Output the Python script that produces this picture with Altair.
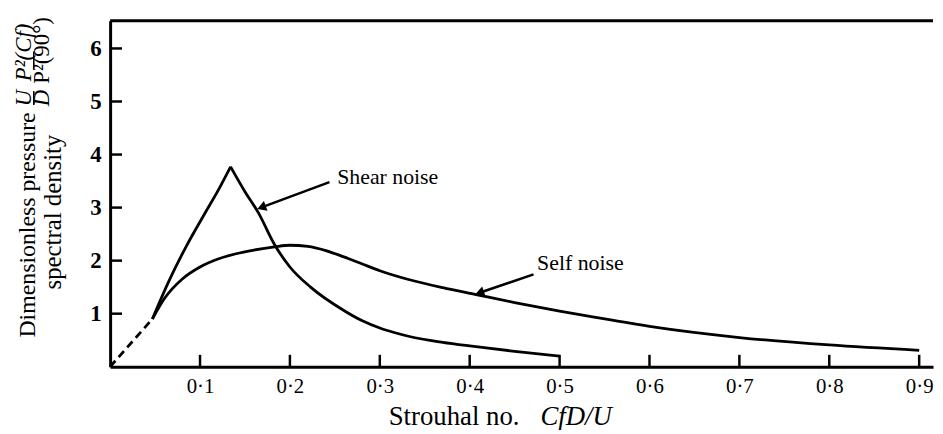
import altair as alt
import pandas as pd

# ---------------- data ----------------
dash_x = [0.0, 0.047]
dash_y = [0.0, 0.9]

shear_up_x = [0.047, 0.065, 0.085, 0.105, 0.12, 0.134]
shear_up_y = [0.9, 1.6, 2.28, 2.88, 3.32, 3.77]

shear_down_x = [0.134, 0.15, 0.165, 0.183, 0.2, 0.223, 0.26, 0.28, 0.3, 0.315, 0.333, 0.37,
                0.407, 0.45, 0.5]
shear_down_y = [3.77, 3.3, 2.9, 2.3, 1.88, 1.5, 1.06, 0.87, 0.73, 0.65, 0.57, 0.46,
                0.38, 0.29, 0.2]

self_x = [0.047, 0.061, 0.08, 0.1, 0.12, 0.14, 0.16, 0.183, 0.2, 0.22, 0.24, 0.26, 0.28, 0.3,
          0.333, 0.37, 0.407, 0.45, 0.5, 0.54, 0.6, 0.7, 0.8, 0.9]
self_y = [0.9, 1.3, 1.65, 1.88, 2.03, 2.13, 2.2, 2.26, 2.29, 2.27, 2.19, 2.07, 1.94, 1.81,
          1.64, 1.49, 1.36, 1.21, 1.05, 0.93, 0.76, 0.55, 0.41, 0.31]

x_ticks = [0.1, 0.2, 0.3, 0.4, 0.5, 0.6, 0.7, 0.8, 0.9]
y_ticks = [1, 2, 3, 4, 5, 6]

labels = ["Shear noise", "Self noise"]
label_x = [0.2526, 0.475]
label_y = [3.57, 1.96]

arrow_tail_x = [0.244, 0.471]
arrow_tail_y = [3.48, 1.74]
arrow_head_x = [0.1684, 0.411]
arrow_head_y = [3.004, 1.394]
arrow_angle = [159.7, 161.3]

title_parts = ["Strouhal no.", "CfD/U"]
ylab_parts = ["Dimensionless pressure", "spectral density", "U", "D", "P²(Cf)", "P²(90°)"]

# ---------------- layout ----------------
W, H = 830, 349
FONT = "Liberation Serif"
xs = alt.Scale(domain=[0, 0.9154], nice=False, zero=False)
ys = alt.Scale(domain=[0, 6.523], nice=False, zero=False)

xaxis = alt.Axis(values=x_ticks, title=None, ticks=False, grid=False,
                 domainColor="black", domainWidth=3,
                 labelFont=FONT, labelFontSize=21, labelColor="black",
                 labelPadding=9,
                 labelExpr="replace(format(datum.value, '.1f'), '.', '·')")
yaxis = alt.Axis(values=y_ticks, title=None, ticks=False, grid=False,
                 domainColor="black", domainWidth=3,
                 labelFont=FONT, labelFontSize=23, labelFontWeight="bold", labelColor="black",
                 labelPadding=9, labelBaseline="middle")


def X(f):
    return alt.X(f, type="quantitative", scale=xs, axis=xaxis)


def Y(f):
    return alt.Y(f, type="quantitative", scale=ys, axis=yaxis)


dash_df = pd.DataFrame({"x": dash_x, "y": dash_y})
curve_df = pd.concat([
    pd.DataFrame({"x": shear_up_x, "y": shear_up_y, "s": "shear_up"}),
    pd.DataFrame({"x": shear_down_x, "y": shear_down_y, "s": "shear_down"}),
    pd.DataFrame({"x": self_x, "y": self_y, "s": "self"}),
], ignore_index=True)
curve_df["o"] = range(len(curve_df))

dash = alt.Chart(dash_df).mark_line(color="black", strokeWidth=2.8, strokeDash=[8, 5]).encode(
    x=X("x"), y=Y("y"))

curves = alt.Chart(curve_df).mark_line(color="black", strokeWidth=2.8, interpolate="monotone").encode(
    x=X("x"), y=Y("y"), detail="s:N", order="o:Q")

xt = alt.Chart(pd.DataFrame({"v": x_ticks})).mark_rule(color="black", strokeWidth=2.5).encode(
    x=X("v"), y=alt.value(H), y2=alt.value(H - 12))
yt = alt.Chart(pd.DataFrame({"v": y_ticks})).mark_rule(color="black", strokeWidth=2.5).encode(
    y=Y("v"), x=alt.value(0), x2=alt.value(12))

top = alt.Chart(pd.DataFrame({"a": [0]})).mark_rule(color="black", strokeWidth=3).encode(
    x=alt.value(0), x2=alt.value(W), y=alt.value(0))

lab_df = pd.DataFrame({"t": labels, "x": label_x, "y": label_y})
lab = alt.Chart(lab_df).mark_text(font=FONT, fontSize=22, align="left", baseline="middle",
                                  color="black").encode(x=X("x"), y=Y("y"), text="t:N")

arr_rows = []
for i in range(len(labels)):
    arr_rows.append({"x": arrow_tail_x[i], "y": arrow_tail_y[i], "a": i, "o": 0})
    arr_rows.append({"x": arrow_head_x[i], "y": arrow_head_y[i], "a": i, "o": 1})
arr_df = pd.DataFrame(arr_rows)
arr = alt.Chart(arr_df).mark_line(color="black", strokeWidth=2.5).encode(
    x=X("x"), y=Y("y"), detail="a:N", order="o:Q")
head_df = pd.DataFrame({"x": arrow_head_x, "y": arrow_head_y, "ang": arrow_angle})
heads = alt.Chart(head_df).mark_point(shape="triangle-right", filled=True, color="black",
                                      opacity=1, size=110).encode(
    x=X("x"), y=Y("y"), angle=alt.Angle("ang:Q", scale=None))


def txt(s, px, py, size, angle=0, style="normal", align="center", baseline="alphabetic"):
    kw = dict(font=FONT, fontSize=size, fontStyle=style, align=align, baseline=baseline,
              color="black")
    if angle:
        kw["angle"] = angle
    return alt.Chart(pd.DataFrame({"t": [s]})).mark_text(**kw).encode(
        x=alt.value(px), y=alt.value(py), text="t:N")


xtitle = (txt(title_parts[0], 281, 408, 27, align="left")
          + txt(title_parts[1], 434, 408, 27, style="italic", align="left"))

ytitle = (txt(ylab_parts[0], -76, 206, 24, angle=270)
          + txt(ylab_parts[1], -50, 193, 25, angle=270)
          + txt(ylab_parts[2], -80, 78, 23, angle=270, style="italic")
          + txt(ylab_parts[3], -62, 78, 23, angle=270, style="italic")
          + txt(ylab_parts[4], -80, 32, 23, angle=270, style="italic")
          + txt(ylab_parts[5], -62, 30, 23, angle=270))

fbar = alt.Chart(pd.DataFrame({"a": [0]})).mark_rule(color="black", strokeWidth=1.6).encode(
    x=alt.value(-77), y=alt.value(71), y2=alt.value(85))
obar = alt.Chart(pd.DataFrame({"a": [0]})).mark_rule(color="black", strokeWidth=1.6).encode(
    x=alt.value(-77), y=alt.value(31), y2=alt.value(49))

chart = alt.layer(dash, curves, xt, yt, top, arr, heads, lab, xtitle, ytitle, fbar, obar).properties(
    width=W, height=H,
    autosize=alt.AutoSizeParams(type="none"),
    padding={"left": 103, "top": 11, "right": 2, "bottom": 62},
    background="white",
).configure(font=FONT).configure_text(font=FONT).configure_axis(
    labelFont=FONT, titleFont=FONT).configure_view(stroke="transparent")

chart.save("out.html", embed_options={"renderer": "svg", "actions": False})
